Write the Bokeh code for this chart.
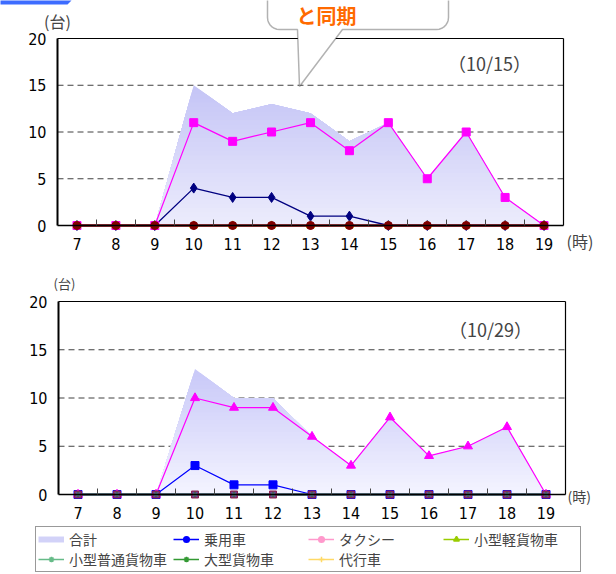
import numpy as np
from bokeh.plotting import figure
from bokeh.layouts import column
from bokeh.models import (Range1d, FixedTicker, Label, PolyAnnotation, Legend,
                          LegendItem, ColumnDataSource, LinearAxis)
from bokeh.embed import file_html
from bokeh.resources import INLINE

# ---- data -------------------------------------------------------------
hours = [7, 8, 9, 10, 11, 12, 13, 14, 15, 16, 17, 18, 19]
y_ticks = [0, 5, 10, 15, 20]
series_names = ["合計", "乗用車", "タクシー", "小型軽貨物車", "小型普通貨物車", "大型貨物車", "代行車"]

# 10/15
total_1015 = [0, 0, 0, 15, 12, 13, 12, 9, 11, 5, 10, 3, 0]
car_1015 = [0, 0, 0, 4, 3, 3, 1, 1, 0, 0, 0, 0, 0]
taxi_1015 = [0, 0, 0, 11, 9, 10, 11, 8, 11, 5, 10, 3, 0]
light_truck_1015 = [0, 0, 0, 0, 0, 0, 0, 0, 0, 0, 0, 0, 0]
small_truck_1015 = [0, 0, 0, 0, 0, 0, 0, 0, 0, 0, 0, 0, 0]
large_truck_1015 = [0, 0, 0, 0, 0, 0, 0, 0, 0, 0, 0, 0, 0]
daiko_1015 = [0, 0, 0, 0, 0, 0, 0, 0, 0, 0, 0, 0, 0]

# 10/29
total_1029 = [0, 0, 0, 13, 10, 10, 6, 3, 8, 4, 5, 7, 0]
car_1029 = [0, 0, 0, 3, 1, 1, 0, 0, 0, 0, 0, 0, 0]
taxi_1029 = [0, 0, 0, 10, 9, 9, 6, 3, 8, 4, 5, 7, 0]
light_truck_1029 = [0, 0, 0, 0, 0, 0, 0, 0, 0, 0, 0, 0, 0]
small_truck_1029 = [0, 0, 0, 0, 0, 0, 0, 0, 0, 0, 0, 0, 0]
large_truck_1029 = [0, 0, 0, 0, 0, 0, 0, 0, 0, 0, 0, 0, 0]
daiko_1029 = [0, 0, 0, 0, 0, 0, 0, 0, 0, 0, 0, 0, 0]

NUM_FONT = "DejaVu Sans Condensed"
JP_FONT = "Noto Sans CJK JP"
W = 616


def capped(xs, ys, cap):
    """Piecewise-linear min(f, cap), with the crossing points added."""
    ox, oy = [], []
    for i in range(len(xs)):
        if i > 0:
            x0, y0, x1, y1 = xs[i - 1], ys[i - 1], xs[i], ys[i]
            if (y0 - cap) * (y1 - cap) < 0:
                t = (cap - y0) / (y1 - y0)
                ox.append(x0 + t * (x1 - x0))
                oy.append(cap)
        ox.append(xs[i])
        oy.append(min(ys[i], cap))
    return ox, oy


def gradient_area(p, xs, ys, top_rgb, bottom_rgb, bands=32):
    """Stacked, shrinking layers give a vertical colour gradient under the curve."""
    vmax = max(ys)
    for k in range(bands):
        cap = vmax * (bands - k) / bands
        t = (cap - vmax / (2 * bands)) / vmax
        rgb = tuple(int(round(bottom_rgb[j] + (top_rgb[j] - bottom_rgb[j]) * t)) for j in range(3))
        cx, cy = capped(xs, ys, cap)
        p.varea(x=cx, y1=[0] * len(cx), y2=cy, fill_color="#%02x%02x%02x" % rgb)


class Chart:
    """A chart whose frame fills the whole canvas; axes sit at fixed data positions."""

    def __init__(self, height, left, right, zero_py, top_py):
        self.h, self.left, self.right = height, left, right
        self.zero_py = zero_py
        self.sx = (right - left) / len(hours)
        self.sy = (zero_py - top_py) / y_ticks[-1]
        lo, hi = hours[0] - 0.5, hours[-1] + 0.5
        self.lo, self.hi = lo, hi
        p = figure(width=W, height=height, toolbar_location=None, output_backend="svg",
                   x_range=Range1d(lo - left / self.sx, hi + (W - right) / self.sx),
                   y_range=Range1d(-(height - zero_py) / self.sy, zero_py / self.sy),
                   x_axis_type=None, y_axis_type=None, min_border=0)
        p.outline_line_color = None
        p.grid.visible = False
        p.background_fill_color = "white"
        p.border_fill_color = "white"

        yax = LinearAxis(fixed_location=lo, bounds=(0, y_ticks[-1]),
                         ticker=FixedTicker(ticks=y_ticks))
        yax.major_tick_out = 0
        yax.major_tick_in = 0
        yax.minor_tick_out = 0
        yax.axis_line_color = "black"
        yax.axis_line_width = 2
        yax.major_label_standoff = 11
        yax.major_label_text_font = NUM_FONT
        yax.major_label_text_font_size = "16px"
        yax.major_label_text_color = "black"
        p.add_layout(yax, "left")

        xax = LinearAxis(fixed_location=0, bounds=(lo, hi),
                         ticker=FixedTicker(ticks=hours,
                                            minor_ticks=[h + 0.5 for h in hours[:-1]]))
        xax.major_tick_out = 0
        xax.major_tick_in = 0
        xax.minor_tick_in = 6
        xax.minor_tick_out = 0
        xax.minor_tick_line_color = "#444444"
        xax.axis_line_color = "black"
        xax.axis_line_width = 1.5
        xax.major_label_standoff = 12
        xax.major_label_text_font = NUM_FONT
        xax.major_label_text_font_size = "16px"
        xax.major_label_text_color = "black"
        p.add_layout(xax, "below")

        # right and top edges of the plot box
        rax = LinearAxis(fixed_location=hi, bounds=(0, y_ticks[-1]), ticker=FixedTicker(ticks=[]))
        rax.axis_line_color = "black"
        rax.axis_line_width = 1.2
        rax.major_tick_out = 0
        rax.minor_tick_out = 0
        p.add_layout(rax, "right")
        tax = LinearAxis(fixed_location=y_ticks[-1], bounds=(lo, hi), ticker=FixedTicker(ticks=[]))
        tax.axis_line_color = "black"
        tax.axis_line_width = 1.2
        tax.major_tick_out = 0
        tax.minor_tick_out = 0
        p.add_layout(tax, "above")

        # dashed horizontal grid inside the box
        gy = y_ticks[1:-1]
        p.segment(x0=[lo] * len(gy), x1=[hi] * len(gy), y0=gy, y1=gy,
                  line_color="#404040", line_dash="6 4", line_width=1)
        self.p = p

    def x(self, px):
        return self.lo + (px - self.left) / self.sx

    def y(self, py):
        return (self.zero_py - py) / self.sy


# ---- upper chart (10/15) ---------------------------------------------
c1 = Chart(265, 57, 563, 225, 38)
p1 = c1.p
gradient_area(p1, hours, total_1015, (196, 196, 246), (236, 236, 252))
p1.line(hours, car_1015, line_color="#000080", line_width=1.3)
p1.scatter(hours, car_1015, marker="diamond", size=10, color="#000080")
p1.line(hours, taxi_1015, line_color="#ff00ff", line_width=1.2)
p1.scatter(hours, taxi_1015, marker="square", size=8, color="#ff00ff")
p1.scatter(hours, light_truck_1015, marker="triangle", size=8, color="#e0e000")
p1.scatter(hours, small_truck_1015, marker="x", size=8, line_color="#3399ff", line_width=1.5)
p1.scatter(hours, large_truck_1015, marker="asterisk", size=8, line_color="#800080", line_width=1.5)
p1.line(hours, daiko_1015, line_color="#800000", line_width=2.5)
p1.scatter(hours, daiko_1015, marker="circle", size=8, color="#800000")

# speech bubble above the chart
bx, by = [], []
for ang in np.linspace(np.pi, np.pi / 2, 8):
    bx.append(279 + 12 * np.cos(ang)); by.append(17 + 12 * np.sin(ang))
for px, py in [(297, 29), (299, 86), (342, 29)]:
    bx.append(px); by.append(py)
for ang in np.linspace(np.pi / 2, 0, 8):
    bx.append(436 + 12 * np.cos(ang)); by.append(17 + 12 * np.sin(ang))
bx += [448, 267]
by += [-12, -12]
p1.add_layout(PolyAnnotation(xs=[c1.x(v) for v in bx], ys=[c1.y(v) for v in by],
                             fill_color="white", fill_alpha=1, line_color="black",
                             line_width=1.5))
p1.add_layout(Label(x=c1.x(326), y=c1.y(15), text="と同期", text_align="center",
                    text_baseline="middle", text_font=JP_FONT, text_font_style="bold",
                    text_font_size="20px", text_color="#ff6a00"))
# corner tab
p1.add_layout(PolyAnnotation(xs=[c1.x(v) for v in [-4, 66, 71, 67, -4]],
                             ys=[c1.y(v) for v in [-6, -6, 0, 4, 4]],
                             fill_color="#3d6cff", fill_alpha=1, line_color=None))

p1.add_layout(Label(x=c1.x(57), y=c1.y(20), text="(台)", text_align="center",
                    text_baseline="middle", text_font=JP_FONT, text_font_size="16px"))
p1.add_layout(Label(x=c1.x(566), y=c1.y(240), text="(時)", text_align="left",
                    text_baseline="middle", text_font=JP_FONT, text_font_size="16px"))
p1.add_layout(Label(x=c1.x(489), y=c1.y(62), text="（10/15）", text_align="center",
                    text_baseline="middle", text_font=JP_FONT, text_font_size="18px"))

# ---- lower chart (10/29) ---------------------------------------------
c2 = Chart(309, 58, 565, 229, 36)
p2 = c2.p
gradient_area(p2, hours, total_1029, (200, 200, 248), (244, 244, 255))
p2.line(hours, car_1029, line_color="#0000ff", line_width=1.2)
p2.scatter(hours, car_1029, marker="square", size=8, color="#0000ff")
p2.line(hours, taxi_1029, line_color="#ff00ff", line_width=1.2)
p2.scatter(hours, taxi_1029, marker="triangle", size=9, color="#ff00ff")
p2.line(hours, daiko_1029, line_color="#2f4f5f", line_width=2.5)
p2.scatter(hours, light_truck_1029, marker="square", size=7, color="#8b2252")
p2.scatter(hours, small_truck_1029, marker="x", size=7, line_color="#7b3fc4", line_width=1.5)
p2.scatter(hours, large_truck_1029, marker="asterisk", size=6, line_color="#2e8b57", line_width=1)

p2.add_layout(Label(x=c2.x(64), y=c2.y(18), text="(台)", text_align="center",
                    text_baseline="middle", text_font=JP_FONT, text_font_size="13px"))
p2.add_layout(Label(x=c2.x(567), y=c2.y(230), text="(時)", text_align="left",
                    text_baseline="middle", text_font=JP_FONT, text_font_size="14px"))
p2.add_layout(Label(x=c2.x(490), y=c2.y(63), text="（10/29）", text_align="center",
                    text_baseline="middle", text_font=JP_FONT, text_font_size="18px"))

# ---- legend ------------------------------------------------------------
blank = ColumnDataSource(data=dict(x=[np.nan], y=[np.nan]))
items = []
r = p2.line("x", "y", source=blank, line_width=6, line_color="#d2d2f8")
items.append(LegendItem(label=series_names[0], renderers=[r]))
legend_styles = [
    ("#0000ff", "circle"),
    ("#ff99cc", "circle"),
    ("#99cc00", "triangle"),
    ("#66bb88", "asterisk"),
    ("#339933", "asterisk"),
    ("#ffd966", "cross"),
]
for name, (col, mk) in zip(series_names[1:], legend_styles):
    rl = p2.line("x", "y", source=blank, line_color=col, line_width=1.5)
    rs = p2.scatter("x", "y", source=blank, marker=mk, color=col, line_width=1.5)
    items.append(LegendItem(label=name, renderers=[rl, rs]))
legend = Legend(items=items, orientation="horizontal", ncols=4, location=(35, 2),
                glyph_width=26, glyph_height=14, label_height=14, label_width=104,
                label_standoff=5, spacing=0, padding=2, margin=0,
                label_text_font=JP_FONT, label_text_font_size="14px",
                border_line_color="#333333", border_line_width=1,
                background_fill_color="white", background_fill_alpha=1)
p2.add_layout(legend)

layout = column(p1, p2, spacing=0)
open("out.html", "w").write(file_html(layout, INLINE))
